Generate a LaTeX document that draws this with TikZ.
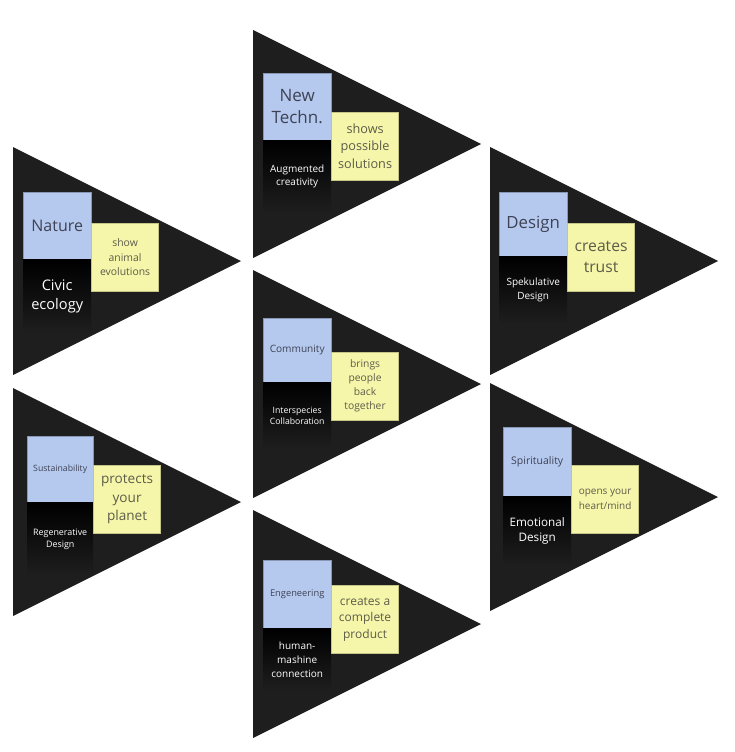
\documentclass[tikz,border=0pt]{standalone}
\usepackage{fontspec}
\setmainfont{Open Sans}
\usepackage{tikz}
\usetikzlibrary{positioning}
\definecolor{fondo}{RGB}{30,30,30}
\definecolor{azul}{RGB}{181,201,239}
\definecolor{amarillo}{RGB}{246,246,170}
\definecolor{tinta}{RGB}{62,66,84}
\definecolor{tintaam}{RGB}{92,92,74}
\newcommand{\tam}[2]{\fontsize{#1}{#2}\selectfont}
\tikzset{
	x=1pt, y=-1pt, % Un punto por pixel, y hacia abajo
	flecha/.style={fill=fondo}, % Triangulos de fondo
	tema/.style={fill=azul, draw=azul!75!black, line width=0.4pt, minimum width=68pt, minimum height=67pt, inner sep=1pt, align=center, text=tinta, anchor=north west}, % Nota azul
	campo/.style={top color=black, middle color=black, bottom color=fondo, minimum width=68pt, minimum height=72pt, inner sep=1pt, align=center, text=white}, % Nota negra
	idea/.style={fill=amarillo, draw=amarillo!80!black, line width=0.4pt, minimum width=67pt, minimum height=68pt, inner sep=1pt, align=center, text=tintaam, anchor=north west} % Nota amarilla
}

\begin{document}
\begin{tikzpicture}
	\useasboundingbox (0,0) rectangle (735,752);
	\foreach \x/\y in {253/30, 13/147, 490/147, 253/270, 13/388, 490/383, 253/510}
		\fill[flecha] (\x,\y) -- ++(0,228) -- ++(228,-114) -- cycle;

	\node[tema, font=\tam{17}{22}] (t1) at (263,73) {New\\Techn.};
	\node[campo, below=0pt of t1, font=\tam{10}{13.5}] (c1) {Augmented\\creativity};
	\node[idea, font=\tam{12.7}{17.5}] (i1) at ([yshift=-39pt]t1.north east) {shows\\possible\\solutions};

	\node[tema, font=\tam{16}{20}] (t2) at (23,192) {Nature};
	\node[campo, below=0pt of t2, minimum height=74pt, font=\tam{14.6}{19.5}] (c2) {Civic\\ecology};
	\node[idea, font=\tam{10.4}{14.7}] (i2) at ([yshift=-31pt]t2.north east) {show\\animal\\evolutions};

	\node[tema, minimum height=64pt, font=\tam{16.8}{21}] (t3) at (499,192) {Design};
	\node[campo, below=0pt of t3, minimum height=67pt, font=\tam{10}{14}] (c3) {Spekulative\\Design};
	\node[idea, font=\tam{15.7}{21}] (i3) at ([yshift=-31pt]t3.north east) {creates\\trust};

	\node[tema, minimum height=64pt, font=\tam{10.1}{13}] (t4) at (263,318) {Community};
	\node[campo, below=0pt of t4, minimum height=66pt, font=\tam{8.7}{11.5}] (c4) {Interspecies\\Collaboration};
	\node[idea, font=\tam{10.3}{14}] (i4) at ([yshift=-34pt]t4.north east) {brings\\people\\back\\together};

	\node[tema, minimum width=66pt, minimum height=66pt, font=\tam{8.7}{11}] (t5) at (27,436) {Sustainability};
	\node[campo, below=0pt of t5, minimum width=66pt, minimum height=73pt, font=\tam{8.9}{12}] (c5) {Regenerative\\Design};
	\node[idea, font=\tam{13.6}{18.5}] (i5) at ([yshift=-29pt]t5.north east) {protects\\your\\planet};

	\node[tema, minimum height=69pt, font=\tam{10.5}{13}] (t6) at (503,427) {Spirituality};
	\node[campo, below=0pt of t6, minimum height=69pt, font=\tam{11.7}{15.5}] (c6) {Emotional\\Design};
	\node[idea, font=\tam{10}{14.3}] (i6) at ([yshift=-38pt]t6.north east) {opens your\\heart/mind};

	\node[tema, minimum height=68pt, font=\tam{9.3}{12}] (t7) at (263,560) {Engeneering};
	\node[campo, below=0pt of t7, minimum height=62pt, font=\tam{10}{14}] (c7) {human-\\mashine\\connection};
	\node[idea, font=\tam{12}{16.7}] (i7) at ([yshift=-25pt]t7.north east) {creates a\\complete\\product};
\end{tikzpicture}
\end{document}
